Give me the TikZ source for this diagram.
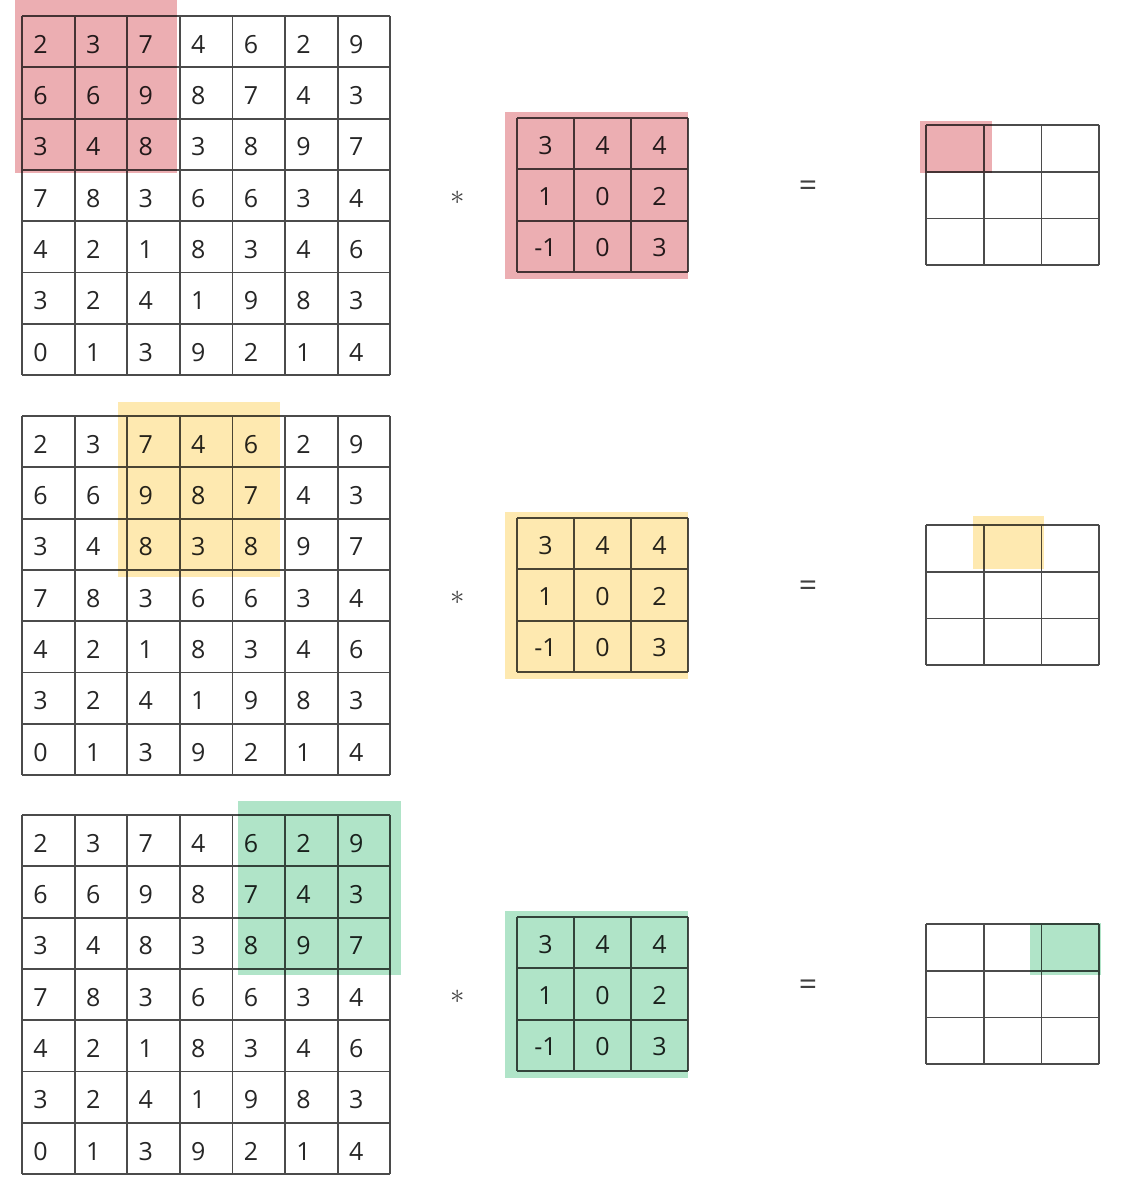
\documentclass[tikz,border=0pt]{standalone}
\usepackage{fontspec}
\setmainfont{Open Sans}
\usetikzlibrary{positioning}

\definecolor{hlred}{RGB}{236,174,178}
\definecolor{hlyellow}{RGB}{254,233,176}
\definecolor{hlgreen}{RGB}{176,228,200}
\definecolor{gridgray}{RGB}{75,75,75}

\tikzset{
  gridline/.style={draw=gridgray, line width=0.9pt},
  digit/.style={anchor=base west, inner sep=0pt, text=black!85, font=\fontsize{12.5}{14}\selectfont},
  kdigit/.style={anchor=base, inner sep=0pt, text=black!85, font=\fontsize{12.5}{14}\selectfont},
  hl/.style={fill=#1, blend mode=multiply, draw=none},
  opsym/.style={inner sep=0pt, text=black!75},
}

\begin{document}
\begin{tikzpicture}[x=0.5pt, y=-0.5pt]
  \useasboundingbox (0,0) rectangle (1123,1183);

  \foreach \dy/\hc/\hxa/\hxb/\hya/\hyb/\oxa/\oxb/\oya/\oyb [count=\b] in
      {0/hlred/15/177/-16/173/920/992/121/173,
       400/hlyellow/118/280/402/577/973/1044/516/569,
       799/hlgreen/238/401/801/975/1030/1101/923/975}
  {
    % input image
    \foreach \i in {0,...,7} {
      \draw[gridline] ({22+\i*52.6},{\dy+16}) -- ({22+\i*52.6},{\dy+375});
      \draw[gridline] (22,{\dy+16+\i*51.3}) -- (390,{\dy+16+\i*51.3});
    }
    \foreach \row [count=\r from 0] in {{2,3,7,4,6,2,9},{6,6,9,8,7,4,3},{3,4,8,3,8,9,7},
        {7,8,3,6,6,3,4},{4,2,1,8,3,4,6},{3,2,4,1,9,8,3},{0,1,3,9,2,1,4}}
      \foreach \v [count=\c from 0] in \row
        \node[digit] (g\b-\r-\c) at ({33+\c*52.6},{\dy+16+(\r+1)*51.3-14}) {\v};

    % kernel
    \foreach \i in {0,...,3} {
      \draw[gridline] ({517+\i*57},{\dy+118}) -- ({517+\i*57},{\dy+272});
      \draw[gridline] (517,{\dy+118+\i*51.3}) -- (688,{\dy+118+\i*51.3});
    }
    \foreach \row [count=\r from 0] in {{3,4,4},{1,0,2},{-1,0,3}}
      \foreach \v [count=\c from 0] in \row
        \node[kdigit] (k\b-\r-\c) at ({545.5+\c*57},{\dy+118+(\r+1)*51.3-15}) {\v};

    % output
    \foreach \i in {0,...,3} {
      \draw[gridline] ({926+\i*57.7},{\dy+125}) -- ({926+\i*57.7},{\dy+265});
      \draw[gridline] (926,{\dy+125+\i*46.7}) -- (1099,{\dy+125+\i*46.7});
    }

    % operators
    \node[opsym, font=\bfseries\fontsize{15}{15}\selectfont] (star\b) at (458,{\dy+198}) {$\ast$};
    \node[opsym, font=\fontsize{16}{16}\selectfont] (eq\b) at (808,{\dy+189}) {=};

    % highlights
    \fill[hl=\hc] (\hxa,\hya) rectangle (\hxb,\hyb);
    \fill[hl=\hc] (505,{\dy+112}) rectangle (688,{\dy+279});
    \fill[hl=\hc] (\oxa,\oya) rectangle (\oxb,\oyb);
  }
\end{tikzpicture}
\end{document}
